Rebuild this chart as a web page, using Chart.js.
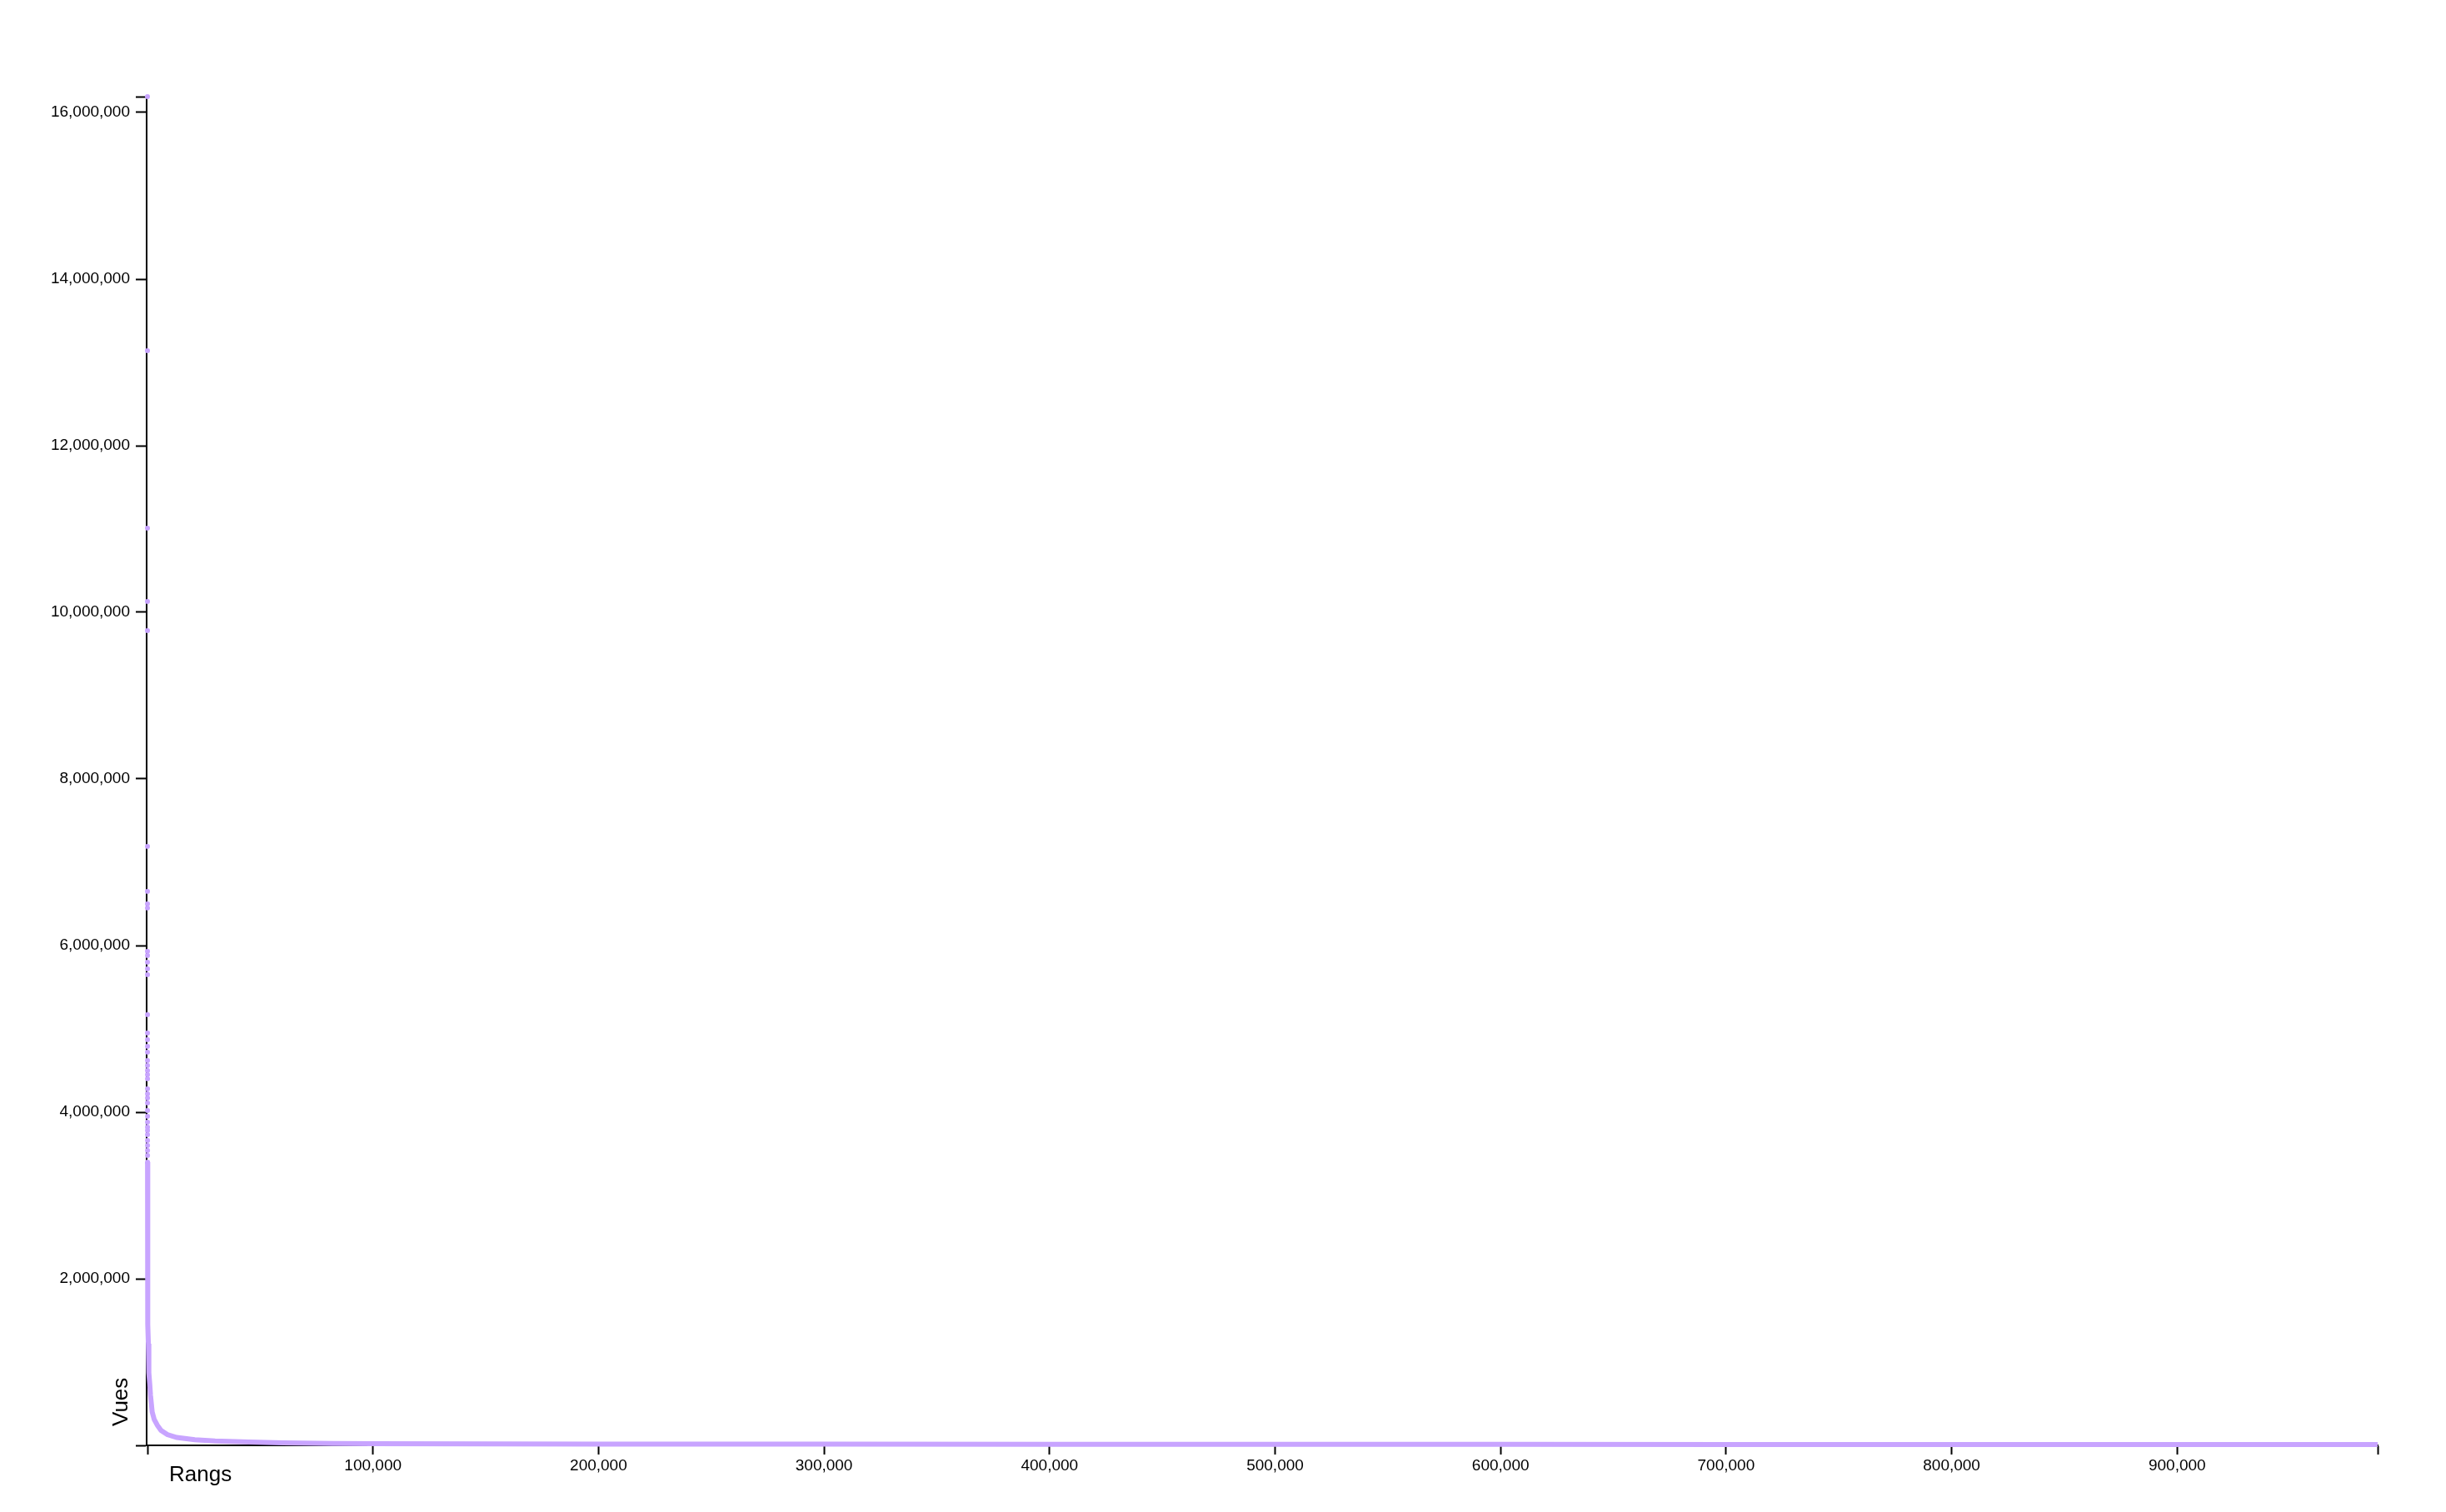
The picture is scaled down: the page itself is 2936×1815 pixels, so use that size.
<!DOCTYPE html>
<html>
<head>
<meta charset="utf-8">
<script src="https://cdn.jsdelivr.net/npm/chart.js@4.4.1/dist/chart.umd.min.js"></script>
<style>
  html, body { margin: 0; padding: 0; background: #ffffff; }
  #wrap { width: 2936px; height: 1815px; }
</style>
</head>
<body>
<div id="wrap"><canvas id="c" width="2936" height="1815" style="width:2936px;height:1815px"></canvas></div>
<script>
// ---- data ----
const ranks = [
  1, 2, 3, 4, 5, 6, 7, 8, 9, 10,
  11, 12, 13, 14, 15, 16, 17, 18, 19, 20,
  21, 22, 23, 24, 25, 26, 27, 28, 29, 30,
  31, 32, 33, 34, 35, 36, 37, 38, 39,
  45, 50, 60, 80, 100, 130, 170, 220, 300, 400, 500,
  730, 1000, 1350, 2100, 3000, 4400, 6000, 8800, 13000, 21000,
  30000, 45000, 60000, 82000, 100000, 150000, 200000, 300000, 400000, 500000,
  600000, 700000, 800000, 900000, 988900
];
const views = [
  16190000, 13140000, 11010000, 10130000, 9780000, 7190000, 6650000, 6500000, 6450000, 5930000,
  5880000, 5800000, 5720000, 5650000, 5170000, 4950000, 4870000, 4790000, 4720000, 4620000,
  4560000, 4500000, 4450000, 4400000, 4280000, 4220000, 4170000, 4110000, 4020000, 3950000,
  3880000, 3820000, 3780000, 3730000, 3660000, 3600000, 3540000, 3480000, 3400000,
  3280000, 3180000, 3000000, 2720000, 2480000, 2200000, 1950000, 1700000, 1450000, 1220000, 1060000,
  870000, 740000, 600000, 400000, 310000, 240000, 180000, 130000, 95000, 67000,
  52000, 40000, 31000, 23000, 19000, 16500, 15000, 13800, 12800, 12000,
  11300, 10700, 10000, 9400, 8800
];
const xTickValues = [0, 100000, 200000, 300000, 400000, 500000, 600000, 700000, 800000, 900000];
const yTickValues = [0, 2000000, 4000000, 6000000, 8000000, 10000000, 12000000, 14000000, 16000000];
const xTitle = 'Rangs';
const yTitle = 'Vues';
const xMin = -370;
const xMax = 988920;
const yMax = 16190000;
const blobCount = 39; // first points drawn as separate dots

const purple = '#c8a4ff';
const fontFamily = '"Liberation Sans", Arial, Helvetica, sans-serif';

const points = ranks.map((r, i) => ({ x: r, y: views[i] }));

const axisTitles = {
  id: 'axisTitles',
  afterDraw(chart) {
    const { ctx, chartArea } = chart;
    ctx.save();
    ctx.fillStyle = '#000';
    ctx.font = '26px ' + fontFamily;
    ctx.textAlign = 'left';
    ctx.textBaseline = 'alphabetic';
    ctx.fillText(xTitle, chartArea.left + 27, chartArea.bottom + 43);
    ctx.translate(chartArea.left - 23, chartArea.bottom - 23);
    ctx.rotate(-Math.PI / 2);
    ctx.fillText(yTitle, 0, 0);
    ctx.restore();
  }
};

const fmt = v => Number(v).toLocaleString('en-US');

new Chart(document.getElementById('c'), {
  type: 'line',
  data: {
    datasets: [{
      data: points,
      borderColor: purple,
      backgroundColor: purple,
      borderWidth: 6,
      tension: 0,
      fill: false,
      clip: false,
      pointRadius: ctx => ctx.dataIndex < blobCount ? 3 : 0,
      pointHoverRadius: 0,
      pointBorderWidth: 0,
      pointBackgroundColor: purple,
      segment: {
        borderColor: ctx => ctx.p0DataIndex < blobCount - 1 ? 'rgba(0,0,0,0)' : undefined
      }
    }]
  },
  options: {
    responsive: false,
    animation: false,
    devicePixelRatio: 1,
    events: [],
    layout: { padding: { top: 116, right: 82, bottom: 0, left: 0 } },
    plugins: {
      legend: { display: false },
      title: { display: false },
      tooltip: { enabled: false }
    },
    scales: {
      x: {
        type: 'linear',
        min: xMin,
        max: xMax,
        afterFit: s => { s.height = 80; },
        afterBuildTicks: s => { s.ticks = xTickValues.concat([xMax]).map(v => ({ value: v })); },
        grid: { drawOnChartArea: false, drawTicks: true, tickLength: 11, tickWidth: 2, tickColor: '#000' },
        border: { display: true, color: '#000', width: 2 },
        ticks: {
          autoSkip: false,
          maxRotation: 0,
          padding: 2,
          color: '#000',
          font: { family: fontFamily, size: 19 },
          callback: v => (v === xMax || v === 0) ? '' : fmt(v)
        }
      },
      y: {
        type: 'linear',
        min: 0,
        max: yMax,
        afterFit: s => { s.width = 176; },
        afterBuildTicks: s => { s.ticks = yTickValues.concat([yMax]).map(v => ({ value: v })); },
        grid: { drawOnChartArea: false, drawTicks: true, tickLength: 13, tickWidth: 2, tickColor: '#000' },
        border: { display: true, color: '#000', width: 2 },
        ticks: {
          autoSkip: false,
          padding: 7,
          color: '#000',
          font: { family: fontFamily, size: 19 },
          callback: v => (v === yMax || v === 0) ? '' : fmt(v)
        }
      }
    }
  },
  plugins: [axisTitles]
});
</script>
</body>
</html>
